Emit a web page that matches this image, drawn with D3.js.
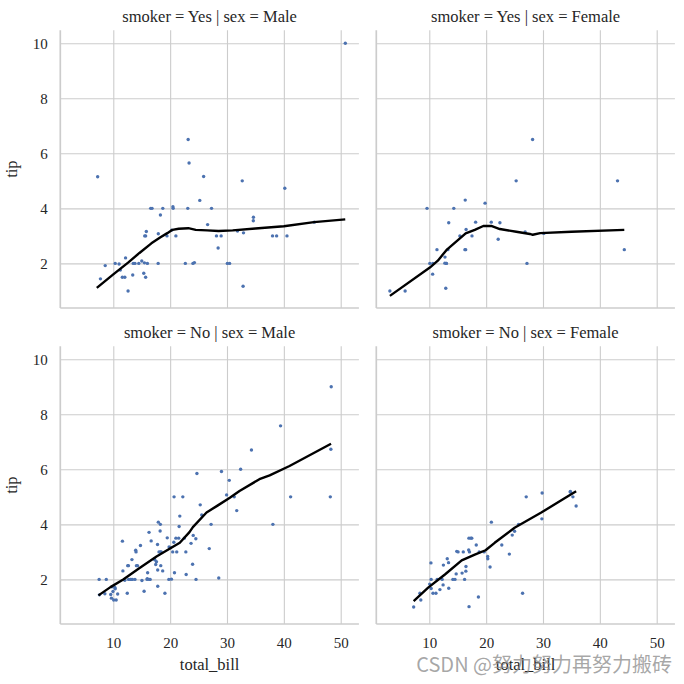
<!DOCTYPE html>
<html><head><meta charset="utf-8">
<script src="https://cdn.jsdelivr.net/npm/d3@7"></script>
<style>body{margin:0;background:#fff}svg{display:block}</style>
</head><body><svg id="c" width="684" height="684"></svg>
<script>
// ---- data (tips dataset, faceted by smoker x sex) ----
const yesMaleBill = [38.01,11.24,20.29,13.81,11.02,18.29,15.01,17.92,19.44,32.68,28.97,40.17,27.28,12.03,21.01,15.36,20.49,25.21,16.00,50.81,15.81,7.25,31.85,16.82,32.90,17.89,14.48,34.63,34.65,23.33,45.35,23.17,40.55,30.46,23.10,15.69,28.44,15.48,16.58,10.34,13.51,18.71,20.53,26.59,38.73,24.27,30.06,25.89,28.15,11.59,7.74,12.16,8.58,13.42,24.01,15.69,15.53,12.60,32.83,22.67];
const yesMaleTip  = [3.00,1.76,3.21,2.00,1.98,3.76,2.09,3.08,3.00,5.00,3.00,4.73,4.00,1.50,3.00,1.64,4.06,4.29,2.00,10.00,3.16,5.15,3.18,4.00,3.11,2.00,2.00,3.55,3.68,5.65,3.50,6.50,3.00,2.00,4.00,1.50,2.56,2.02,4.00,2.00,2.00,4.00,4.00,3.41,3.00,2.03,2.00,5.16,3.00,1.50,1.44,2.20,1.92,1.58,2.00,3.00,3.00,1.00,1.17,2.00];

const yesFemaleBill = [3.07,26.86,25.28,5.75,16.32,11.35,15.38,44.30,22.42,14.31,17.51,10.59,10.63,9.60,20.90,18.15,19.81,43.11,13.00,12.74,13.00,16.40,16.47,12.76,13.27,28.17,12.90,30.14,13.42,16.27,10.09,22.12,27.18];
const yesFemaleTip  = [1.00,3.14,5.00,1.00,4.30,2.50,3.00,2.50,3.48,4.00,3.00,1.61,2.00,4.00,3.50,3.50,4.19,5.00,2.00,2.01,2.00,2.50,3.23,2.23,2.50,6.50,1.10,3.09,3.48,2.50,2.00,2.88,2.00];

const noMaleBill = [10.34,21.01,23.68,25.29,8.77,26.88,15.04,14.78,10.27,15.42,18.43,21.58,16.29,20.65,17.92,39.42,19.82,17.81,13.37,12.69,21.70,9.55,18.35,17.78,24.06,16.31,18.69,31.27,16.04,17.46,13.94,9.68,30.40,18.29,22.23,32.40,28.55,18.04,12.54,9.94,25.56,19.49,48.27,17.59,20.08,20.23,12.02,10.51,27.20,22.76,17.29,16.66,15.98,13.03,18.28,24.71,21.16,22.49,12.46,18.24,14.00,38.07,23.95,29.93,11.69,14.26,15.95,8.52,22.82,19.08,34.30,41.19,9.78,7.51,14.07,13.13,17.26,24.55,19.77,48.17,16.49,21.50,12.66,13.81,24.52,20.76,31.71,20.69,7.56,48.33,20.45,13.28,11.61,10.77,10.07,29.03,17.82];
const noMaleTip  = [1.66,3.50,3.31,4.71,2.00,3.12,1.96,3.23,1.71,1.57,3.00,3.92,3.71,3.35,4.08,7.58,3.18,2.34,2.00,2.00,4.30,1.45,2.50,3.27,3.60,2.00,2.31,5.00,2.24,2.54,3.06,1.32,5.60,3.00,5.00,6.00,2.05,3.00,2.50,1.56,4.34,3.51,6.73,2.64,3.15,2.01,1.97,1.25,4.00,3.00,2.71,3.40,2.03,2.00,4.00,5.85,3.00,3.50,1.50,3.76,3.00,4.00,2.55,5.07,2.31,2.50,2.00,1.48,2.18,1.50,6.70,5.00,1.73,2.00,2.50,2.00,2.74,2.00,2.00,5.00,2.00,3.50,2.50,2.00,3.48,2.24,4.50,5.00,1.44,9.00,3.00,2.72,3.39,1.47,1.25,5.92,1.75];

const noFemaleBill = [16.99,24.59,35.26,14.83,10.33,16.97,20.29,15.77,19.65,15.06,20.69,16.93,10.29,34.81,26.41,16.45,17.07,14.73,10.07,34.83,22.75,20.92,7.25,25.71,17.31,10.65,12.43,24.08,13.42,12.48,29.80,14.52,11.38,20.27,11.17,12.26,18.26,8.51,10.33,14.15,13.16,17.47,27.05,16.43,8.35,18.64,11.87,29.85,25.00,13.39,16.21,15.98,35.83,18.78];
const noFemaleTip  = [1.01,3.61,5.00,3.02,1.67,3.50,2.75,2.23,3.00,3.00,2.45,3.07,2.60,5.20,1.50,2.47,3.00,2.20,1.83,5.17,3.25,4.08,1.00,4.00,3.50,1.50,1.80,2.92,1.68,2.52,4.20,2.00,2.00,2.83,1.50,2.00,3.25,1.25,2.00,2.00,2.75,3.50,5.00,2.30,1.50,1.36,1.63,5.14,3.75,2.61,2.00,3.00,4.67,3.00];

// lowess curves
const yesMaleFitX = [7.1,10,12.6,14.6,16.7,18.3,19.5,20.4,21.5,23.2,24.5,26.5,28.5,31,35,40,45.3,50.8];
const yesMaleFitY = [1.11,1.6,2.03,2.38,2.73,2.95,3.1,3.22,3.26,3.28,3.22,3.2,3.18,3.2,3.27,3.35,3.5,3.6];
const yesFemaleFitX = [3.07,10.1,11.5,13.0,16.4,18.0,19.5,20.9,22.4,25.3,27.7,28.2,29.5,35,44.3];
const yesFemaleFitY = [0.82,1.85,2.1,2.48,3.09,3.22,3.36,3.36,3.25,3.15,3.07,3.04,3.1,3.15,3.22];
const noMaleFitX = [7.4,9.5,11.75,14.5,17.6,20.2,21.7,23.4,24.0,26.4,28.4,30.5,32.2,35.7,37.5,41,48.3];
const noMaleFitY = [1.42,1.72,2.0,2.4,2.83,3.15,3.33,3.72,3.9,4.43,4.69,4.97,5.21,5.64,5.78,6.12,6.93];
const noFemaleFitX = [7.25,9.8,12.75,15.7,18.0,19.9,21.5,25,29.7,33.8,35.83];
const noFemaleFitY = [1.21,1.7,2.18,2.69,2.9,3.06,3.33,3.88,4.43,4.95,5.2];

const xTicks = [10,20,30,40,50];
const yTicks = [2,4,6,8,10];
const titles = ["smoker = Yes | sex = Male","smoker = Yes | sex = Female","smoker = No | sex = Male","smoker = No | sex = Female"];

const facets = [
  {title:titles[0], bill:yesMaleBill, tip:yesMaleTip, fx:yesMaleFitX, fy:yesMaleFitY, row:0, col:0},
  {title:titles[1], bill:yesFemaleBill, tip:yesFemaleTip, fx:yesFemaleFitX, fy:yesFemaleFitY, row:0, col:1},
  {title:titles[2], bill:noMaleBill, tip:noMaleTip, fx:noMaleFitX, fy:noMaleFitY, row:1, col:0},
  {title:titles[3], bill:noFemaleBill, tip:noFemaleTip, fx:noFemaleFitX, fy:noFemaleFitY, row:1, col:1}
];

// ---- layout ----
const W = 298.6, H = 277.7, X0 = 60.3, Y0 = 30.3, STEP = 316;
const x = d3.scaleLinear().domain([0.68, 53.2]).range([0, W]);
const y = d3.scaleLinear().domain([0.38, 10.47]).range([H, 0]);
const serif = "'Liberation Serif','Times New Roman',serif";
const gridCol = "#cccccc";

const svg = d3.select("#c");
svg.append("rect").attr("width",684).attr("height",684).attr("fill","#fff");

facets.forEach(f => {
  const g = svg.append("g").attr("transform", `translate(${X0 + f.col*STEP},${Y0 + f.row*STEP})`);

  // gridlines + tick labels
  const gx = g.append("g").attr("transform", `translate(0,${H})`)
    .attr("font-family", serif)
    .call(d3.axisBottom(x).tickValues(xTicks).tickSize(-H).tickFormat(f.row===1 ? d3.format("d") : ""));
  const gy = g.append("g").attr("font-family", serif)
    .call(d3.axisLeft(y).tickValues(yTicks).tickSize(-W).tickFormat(f.col===0 ? d3.format("d") : ""));
  [gx, gy].forEach(a => {
    a.attr("font-family", serif).attr("font-size", 15);
    a.select(".domain").remove();
    a.selectAll(".tick line").attr("stroke", gridCol).attr("stroke-width", 1.1);
    a.selectAll(".tick text").attr("fill", "#262626").style("font-family", serif).style("font-size", "15px");
  });
  gx.selectAll(".tick text").attr("dy", null).attr("y", 648 - (Y0 + H + STEP));
  gy.selectAll(".tick text").attr("x", -12.5).attr("dy", "0.32em");

  // spines (left & bottom)
  g.append("line").attr("x1",0).attr("x2",0).attr("y1",0).attr("y2",H).attr("stroke",gridCol).attr("stroke-width",1.7);
  g.append("line").attr("x1",0).attr("x2",W).attr("y1",H).attr("y2",H).attr("stroke",gridCol).attr("stroke-width",1.7);

  // scatter
  g.append("g").selectAll("circle").data(f.bill.map((b,i)=>[b, f.tip[i]])).join("circle")
    .attr("cx", d => x(d[0])).attr("cy", d => y(d[1])).attr("r", 1.7)
    .attr("fill", "#4c72b0");

  // lowess line
  g.append("path").datum(f.fx.map((v,i)=>[v, f.fy[i]]))
    .attr("d", d3.line().x(d=>x(d[0])).y(d=>y(d[1])))
    .attr("fill","none").attr("stroke","#000").attr("stroke-width",2.4).attr("stroke-linejoin","round");

  // title
  svg.append("text").attr("x", X0 + f.col*STEP + W/2).attr("y", 22 + f.row*STEP)
    .attr("text-anchor","middle").attr("fill","#262626")
    .style("font-family", serif).style("font-size","16.5px").text(f.title);
});

// axis labels
[0,1].forEach(c => {
  svg.append("text").attr("x", X0 + c*STEP + W/2).attr("y", 670).attr("text-anchor","middle")
    .attr("fill","#262626").style("font-family", serif).style("font-size","16.5px").text("total_bill");
});
[0,1].forEach(r => {
  svg.append("text").attr("transform", `translate(17,${Y0 + r*STEP + H/2}) rotate(-90)`).attr("text-anchor","middle")
    .attr("fill","#262626").style("font-family", serif).style("font-size","16.5px").text("tip");
});

// watermark
svg.append("text").attr("x", 672).attr("y", 672).attr("text-anchor","end")
  .attr("fill","#8a8a8a").attr("fill-opacity",0.75)
  .style("font-family","'Noto Sans CJK SC','Noto Sans',sans-serif").style("font-size","20px")
  .text("CSDN @努力努力再努力搬砖");
</script>
</body></html>
